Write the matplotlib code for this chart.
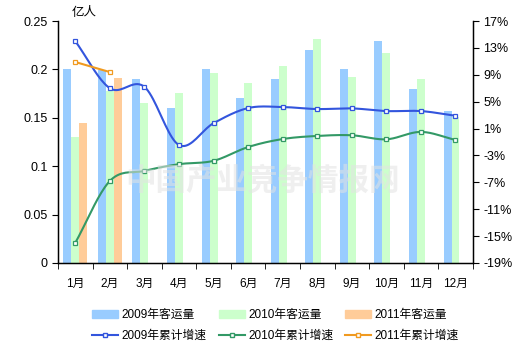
import numpy as np
import matplotlib
matplotlib.use("Agg")
import matplotlib.pyplot as plt
from matplotlib.lines import Line2D
from matplotlib.patches import Patch

plt.rcParams['font.family'] = ['Liberation Sans', 'Noto Sans CJK SC', 'DejaVu Sans']

months = ["1月", "2月", "3月", "4月", "5月", "6月", "7月", "8月", "9月", "10月", "11月", "12月"]
vol_2009 = [0.200, 0.199, 0.190, 0.160, 0.200, 0.170, 0.190, 0.220, 0.200, 0.229, 0.180, 0.157]
vol_2010 = [0.130, 0.178, 0.165, 0.176, 0.196, 0.186, 0.204, 0.231, 0.192, 0.217, 0.190, 0.151]
vol_2011 = [0.145, 0.191]
gr_2009 = [14.0, 7.0, 7.2, -1.45, 1.8, 4.05, 4.2, 3.9, 4.0, 3.6, 3.6, 2.9]
gr_2010 = [-16.0, -6.8, -5.3, -4.3, -3.8, -1.75, -0.56, -0.1, 0.0, -0.6, 0.5, -0.7]
gr_2011 = [10.9, 9.4]

c_b09, c_b10, c_b11 = "#99CCFF", "#CCFFCC", "#FFCC99"
c_l09, c_l10, c_l11 = "#3355DD", "#339966", "#F09A20"


def smooth(xs, ys, n=20):
    xs = np.asarray(xs, float); ys = np.asarray(ys, float)
    if len(xs) < 3:
        return xs, ys
    P = np.column_stack([xs, ys])
    P = np.vstack([P[0] - (P[1] - P[0]), P, P[-1] + (P[-1] - P[-2])])
    out = []
    for i in range(1, len(P) - 2):
        p0, p1, p2, p3 = P[i - 1], P[i], P[i + 1], P[i + 2]
        t = np.linspace(0, 1, n, endpoint=(i == len(P) - 3))[:, None]
        pts = 0.5 * ((2 * p1) + (-p0 + p2) * t + (2 * p0 - 5 * p1 + 4 * p2 - p3) * t ** 2
                     + (-p0 + 3 * p1 - 3 * p2 + p3) * t ** 3)
        out.append(pts)
    out = np.vstack(out)
    return out[:, 0], out[:, 1]


fig = plt.figure(figsize=(5.25, 3.5), dpi=100)
ax = fig.add_axes([0.1105, 0.2486, 0.79, 0.6914])
x = np.arange(len(months))
w = 0.23
ax.bar(x - w, vol_2009, w, color=c_b09, zorder=2)
ax.bar(x, vol_2010, w, color=c_b10, zorder=2)
ax.bar(x[:len(vol_2011)] + w, vol_2011, w, color=c_b11, zorder=2)
ax.set_xlim(-0.5, len(months) - 0.5)
ax.set_ylim(0, 0.25)
ax.set_yticks([0, 0.05, 0.1, 0.15, 0.2, 0.25])
ax.set_yticklabels(["0", "0.05", "0.1", "0.15", "0.2", "0.25"])
ax.set_xticks(x)
ax.set_xticklabels(months)
ax.set_xticks(np.arange(-0.5, len(months)), minor=True)
ax.tick_params(axis='x', which='major', length=0, labelsize=8.5, pad=11)
ax.tick_params(axis='x', which='minor', length=4, direction='out')
ax.tick_params(axis='y', labelsize=9, length=4, direction='out')
ax.spines['top'].set_visible(False)
for s in ['left', 'bottom', 'right']:
    ax.spines[s].set_linewidth(1.0)

ax2 = ax.twinx()
ax2.set_ylim(-19, 17)
ax2.set_yticks(np.arange(-19, 18, 4))
ax2.set_yticklabels([f"{v}%" for v in np.arange(-19, 18, 4)])
ax2.tick_params(axis='y', labelsize=9, length=4, direction='out')
ax2.spines['top'].set_visible(False)

for ys, col in [(gr_2009, c_l09), (gr_2010, c_l10), (gr_2011, c_l11)]:
    xs = x[:len(ys)]
    sx, sy = smooth(xs, ys)
    ax2.plot(sx, sy, color=col, lw=1.5, zorder=3)
    ax2.plot(xs, ys, ls='none', marker='s', ms=3.5, mfc='white', mec=col, mew=0.9, zorder=4)

fig.text(0.5, 0.485, "中国产业竞争情报网", fontsize=22, color='#e2e2e2', alpha=0.55,
         ha='center', va='center', fontweight='bold', family=['Noto Sans CJK SC'], zorder=10)
fig.text(72 / 525, 1 - 13 / 350, "亿人", fontsize=9, ha='left', va='center')

mk = dict(lw=1.5, marker='s', ms=3, mfc='white')
handles = [Patch(color=c_b09), Line2D([], [], color=c_l09, mec=c_l09, **mk),
           Patch(color=c_b10), Line2D([], [], color=c_l10, mec=c_l10, **mk),
           Patch(color=c_b11), Line2D([], [], color=c_l11, mec=c_l11, **mk)]
labels = ["2009年客运量", "2009年累计增速", "2010年客运量", "2010年累计增速", "2011年客运量", "2011年累计增速"]
fig.legend(handles, labels, ncol=3, loc='center', bbox_to_anchor=(0.525, 0.07), frameon=False,
           fontsize=8.5, handlelength=2.2, handletextpad=0.3, columnspacing=1.0, labelspacing=0.8)

fig.savefig("out.png", dpi=100)
